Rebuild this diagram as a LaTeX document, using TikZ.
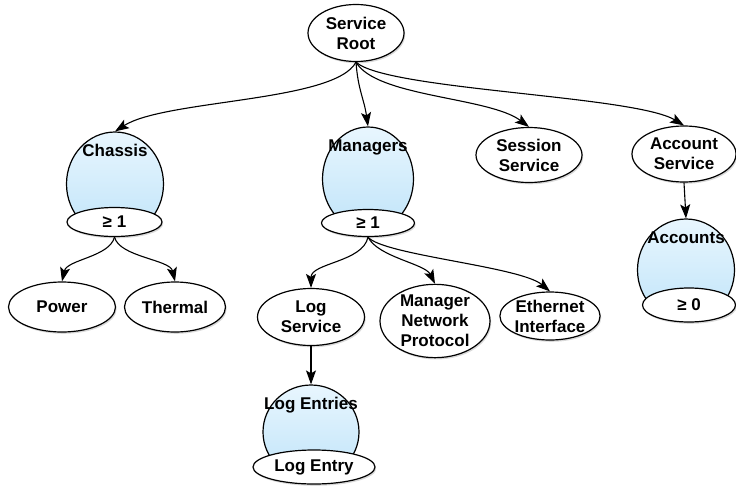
\documentclass[tikz,border=0pt]{standalone}
\usepackage{fontspec}
\setmainfont{Liberation Sans}
\usepackage{tikz}
\usetikzlibrary{positioning,shapes,shadows,arrows.meta}
\definecolor{collTop}{RGB}{232,246,254}
\definecolor{collBot}{RGB}{192,228,249}
\tikzset{%
	res/.style={%
		ellipse,
		draw,
		fill=white,
		line width=1.2pt,
		inner sep=0pt,
		align=center,
		drop shadow={opacity=0.3, shadow xshift=1.2pt, shadow yshift=-1.8pt}
	},
	coll/.style={%
		ellipse,
		draw,
		top color=collTop,
		bottom color=collBot,
		line width=1.2pt,
		inner sep=0pt,
		minimum width=96pt,
		minimum height=104pt
	},
	sz/.style 2 args={minimum width=#1pt, minimum height=#2pt},
	ctitle/.style={anchor=north, inner sep=0pt, yshift=-13pt},
	link/.style={-{Stealth[length=14pt, width=10pt, inset=3pt]}, line width=1.1pt}
}
\begin{document}
\begin{tikzpicture}[x=1pt, y=-1pt, font=\fontsize{17}{20}\selectfont\bfseries]
    \useasboundingbox (0,0) rectangle (736,485);
    \node [res, sz={96}{57}] (root) at (356,33) {Service\\Root};
    \node [coll, minimum width=97pt, label={[ctitle]north:Chassis}] (chassis) at (115,184) {};
    \node [res, sz={95}{29}] (chassisN) at (114.5,222) {≥ 1};
    \node [coll, minimum width=91pt, label={[ctitle]north:Managers}] (managers) at (368,179) {};
    \node [res, sz={93}{27}] (managersN) at (368,223) {≥ 1};
    \node [res, sz={106}{55}] (session) at (529,155) {Session\\Service};
    \node [res, sz={104}{56}] (account) at (684,154) {Account\\Service};
    \node [coll, minimum width=97pt, minimum height=102pt, label={[ctitle]north:Accounts}] (accounts) at (686,270) {};
    \node [res, sz={93}{34}] (accountsN) at (689,305) {≥ 0};
    \node [res, sz={107}{50}] (power) at (62,307) {Power};
    \node [res, sz={101}{50}] (thermal) at (175,307) {Thermal};
    \node [res, sz={107}{57}] (logsvc) at (311,317) {Log\\Service};
    \node [res, sz={110}{72}] (netproto) at (435,321) {Manager\\Network\\Protocol};
    \node [res, sz={100}{48}] (ether) at (550,316) {Ethernet\\Interface};
    \node [coll, minimum height=94pt, label={[ctitle]north:Log Entries}] (logentries) at (311,432) {};
    \node [res, sz={122}{34}] (logentry) at (314,467) {Log Entry};

    \draw [link] (root.south) .. controls +(-21,40) and +(50,-32) .. (chassis.north);
    \draw [link] (root.south) .. controls +(2,28) and +(-4,-28) .. (managers.north);
    \draw [link] (root.south) .. controls +(20,35) and +(-40,-30) .. (session.north);
    \draw [link] (root.south) .. controls +(30,28) and +(-50,-30) .. (account.north);
    \draw [link] (chassisN.south) .. controls +(-5,20) and +(5,-22) .. (power.north);
    \draw [link] (chassisN.south) .. controls +(5,20) and +(-5,-22) .. (thermal.north);
    \draw [link] (managersN.south) .. controls +(-5,25) and +(0,-25) .. (logsvc.north);
    \draw [link] (managersN.south) .. controls +(10,20) and +(-10,-20) .. (netproto.north);
    \draw [link] (managersN.south) .. controls +(15,18) and +(-30,-25) .. (ether.north);
    \draw [link] (logsvc.south) -- (logentries.north);
    \draw [link] (account.south) -- (accounts.north);
\end{tikzpicture}
\end{document}
